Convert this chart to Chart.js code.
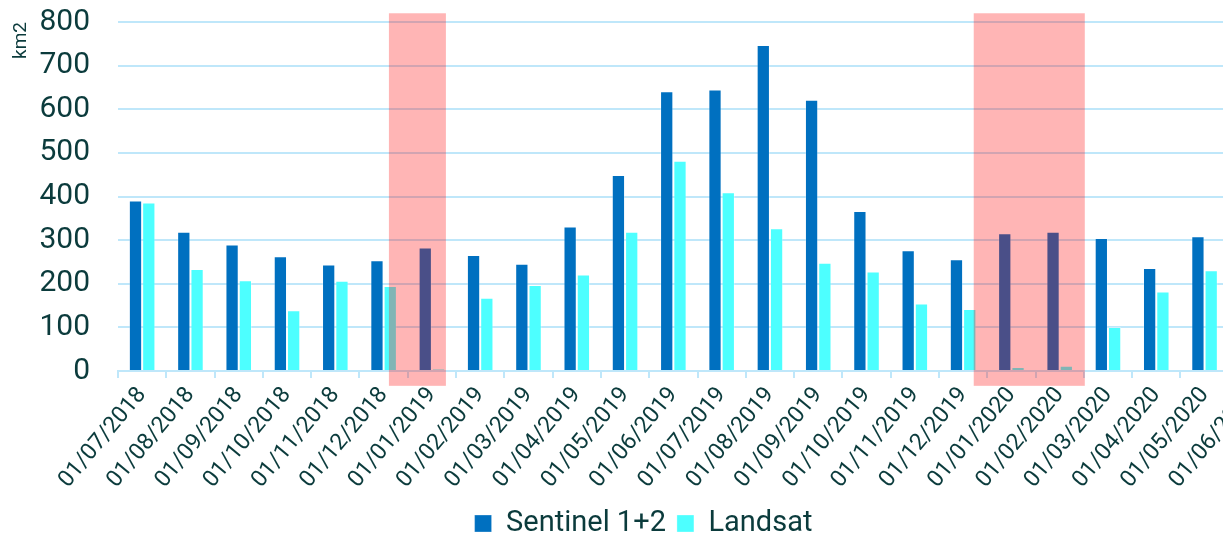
<!DOCTYPE html>
<html>
<head>
<meta charset="utf-8">
<script src="https://cdn.jsdelivr.net/npm/chart.js@4/dist/chart.umd.min.js"></script>
<style>
  html, body { margin: 0; padding: 0; background: #ffffff; overflow: hidden; }
  #wrap { width: 1288px; height: 538px; }
</style>
</head>
<body>
<div id="wrap"><canvas id="chart" width="1288" height="538"></canvas></div>
<script>
// Monthly mapped area (km2) per sensor family
const categories = [
  '01/07/2018', '01/08/2018', '01/09/2018', '01/10/2018', '01/11/2018', '01/12/2018',
  '01/01/2019', '01/02/2019', '01/03/2019', '01/04/2019', '01/05/2019', '01/06/2019',
  '01/07/2019', '01/08/2019', '01/09/2019', '01/10/2019', '01/11/2019', '01/12/2019',
  '01/01/2020', '01/02/2020', '01/03/2020', '01/04/2020', '01/05/2020', '01/06/2020'
];
const sentinel = [391, 319, 290, 263, 244, 254, 283, 266, 246, 331, 449, 641,
                  645, 747, 622, 367, 277, 256, 316, 319, 305, 236, 309, null];
const landsat  = [386, 234, 208, 139, 207, 195, 5, 168, 197, 221, 319, 482,
                  410, 327, 248, 228, 155, 142, 9, 12, 101, 182, 231, null];
const yTicks = [0, 100, 200, 300, 400, 500, 600, 700, 800];

// Highlighted periods, as [from, to] positions on the category axis (index units)
const highlightRanges = [[5.11, 6.29], [17.22, 19.52]];
// Vertical reach of the highlight bands, in axis values
const highlightSpan = [-34, 820];

const textColor = '#0b3b3c';
const gridColor = '#bfe7fa';
const fontFamily = 'Roboto, "Noto Sans", sans-serif';

const highlightPlugin = {
  id: 'highlightBands',
  afterDatasetsDraw(chart) {
    const { ctx, scales: { x, y } } = chart;
    ctx.save();
    ctx.fillStyle = 'rgba(255, 0, 0, 0.29)';
    const top = y.getPixelForValue(highlightSpan[1]);
    const bottom = y.getPixelForValue(highlightSpan[0]);
    highlightRanges.forEach(([a, b]) => {
      const left = x.getPixelForValue(a);
      const right = x.getPixelForValue(b);
      ctx.fillRect(left, top, right - left, bottom - top);
    });
    ctx.restore();
  }
};

new Chart(document.getElementById('chart'), {
  type: 'bar',
  data: {
    labels: categories,
    datasets: [
      {
        label: 'Sentinel 1+2',
        data: sentinel,
        backgroundColor: '#0070c0',
        borderColor: 'rgba(255,255,255,0.3)',
        borderWidth: 1
      },
      {
        label: 'Landsat',
        data: landsat,
        backgroundColor: '#4dffff',
        borderColor: 'rgba(255,255,255,0.3)',
        borderWidth: 1
      }
    ]
  },
  options: {
    responsive: false,
    animation: false,
    categoryPercentage: 0.55,
    barPercentage: 1.0,
    layout: { padding: { left: 10, right: 11, top: 22, bottom: -10 } },
    plugins: {
      legend: {
        position: 'bottom',
        labels: {
          color: textColor,
          font: { family: fontFamily, size: 29 },
          boxWidth: 17,
          boxHeight: 17,
          padding: 11
        }
      },
      tooltip: { enabled: false }
    },
    scales: {
      x: {
        afterFit(scale) { scale.height = 127; },
        grid: {
          drawOnChartArea: false,
          drawTicks: true,
          tickLength: 7,
          color: gridColor,
          lineWidth: 2
        },
        border: { display: true, color: gridColor, width: 2 },
        ticks: {
          color: textColor,
          font: { family: fontFamily, size: 23 },
          minRotation: 50,
          maxRotation: 50,
          autoSkip: false,
          padding: 4
        }
      },
      y: {
        min: 0,
        max: 800,
        afterFit(scale) { scale.width = 108; },
        afterBuildTicks(axis) {
          axis.ticks = yTicks.map(v => ({ value: v }));
        },
        grid: {
          color: gridColor,
          lineWidth: 2,
          drawTicks: true,
          tickLength: 26,
          tickColor: 'rgba(0,0,0,0)'
        },
        border: { display: false },
        ticks: {
          color: textColor,
          font: { family: fontFamily, size: 30 },
          padding: 2
        },
        title: {
          display: true,
          text: 'km2',
          align: 'end',
          color: textColor,
          font: { family: fontFamily, size: 19 },
          padding: { top: 0, bottom: 4 }
        }
      }
    }
  },
  plugins: [highlightPlugin]
});
</script>
</body>
</html>
